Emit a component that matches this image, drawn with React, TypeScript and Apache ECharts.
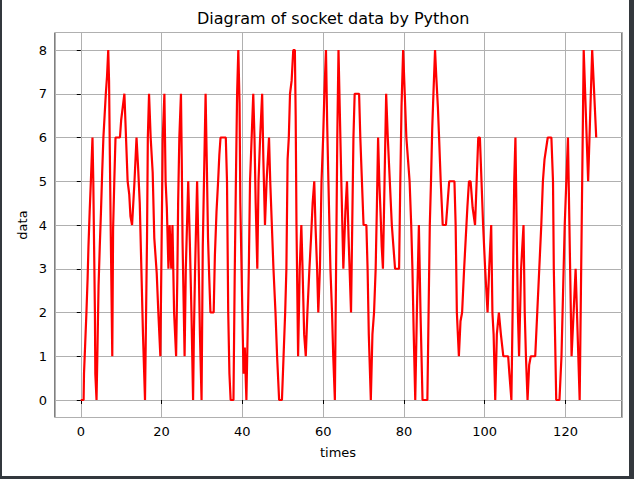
import React, { useEffect, useRef } from "react";
import * as echarts from "echarts";

const TITLE = "Diagram of socket data by Python";
const X_NAME = "times";
const Y_NAME = "data";

const times = [
  0, 0.7, 0.8, 1.1, 1.4, 1.7, 1.9, 2.2, 2.5, 2.9, 3.1, 3.3, 3.5, 3.6, 3.9, 4.1, 4.4, 4.7, 5.0, 5.3,
  5.6, 5.9, 6.2, 6.5, 6.8, 7.0, 7.2, 7.4, 7.8, 8.0, 8.3, 8.6, 9.7, 10.0, 10.4, 10.8, 11.2, 11.6, 12.0, 12.3,
  12.7, 13.3, 13.8, 14.2, 14.6, 15.0, 15.4, 15.9, 16.1, 16.4, 16.6, 16.9, 17.3, 17.8, 18.2, 18.8, 19.2, 19.7, 20.0, 20.3,
  20.7, 21.0, 21.3, 21.7, 22.0, 22.4, 22.7, 23.1, 23.6, 23.9, 24.1, 24.4, 24.8, 25.0, 25.2, 25.7, 26.0, 26.6, 27.0, 27.4,
  27.8, 28.0, 28.3, 28.8, 29.1, 29.5, 29.9, 30.2, 30.5, 30.9, 31.2, 31.5, 31.8, 32.1, 32.9, 33.2, 33.6, 34.0, 34.3, 34.6,
  35.9, 36.2, 36.5, 36.8, 37.1, 37.8, 38.1, 38.4, 38.7, 39.0, 39.3, 39.5, 39.8, 40.1, 40.3, 40.6, 41.0, 41.3, 41.6, 41.9,
  42.3, 42.7, 43.0, 43.3, 43.7, 44.0, 44.4, 44.9, 45.2, 45.6, 46.0, 46.6, 46.9, 47.3, 47.7, 48.2, 48.6, 49.1, 49.8, 50.2,
  50.6, 50.9, 51.2, 51.5, 51.8, 52.2, 52.6, 53.0, 53.2, 53.4, 53.8, 54.2, 54.6, 54.9, 55.3, 55.7, 56.1, 56.6, 57.0, 57.4,
  57.8, 58.1, 58.5, 58.8, 59.2, 59.6, 60.0, 60.3, 60.7, 61.0, 61.3, 61.8, 62.2, 62.5, 62.9, 63.2, 63.5, 63.8, 64.1, 64.5,
  65.0, 65.5, 65.9, 66.3, 66.9, 67.2, 67.5, 67.8, 68.9, 69.2, 69.6, 70.0, 70.7, 71.0, 71.3, 71.8, 72.2, 72.6, 73.0, 73.3,
  73.6, 73.9, 74.2, 74.5, 74.8, 75.2, 75.6, 76.0, 76.5, 77.0, 77.4, 77.8, 78.8, 79.1, 79.4, 79.8, 80.2, 80.6, 81.0, 81.4,
  81.8, 82.1, 82.4, 82.8, 83.2, 83.7, 84.1, 84.6, 85.8, 86.1, 86.4, 86.7, 87.0, 87.3, 87.7, 88.0, 88.4, 88.7, 89.1, 89.6,
  90.4, 90.8, 91.2, 92.5, 92.8, 93.1, 93.6, 94.0, 94.4, 94.9, 95.3, 95.7, 96.1, 96.5, 97.0, 97.6, 98.0, 98.4, 98.8, 99.2,
  99.6, 100.1, 100.7, 101.1, 101.6, 101.9, 102.2, 102.6, 103.0, 103.5, 104.0, 104.6, 105.8, 106.1, 106.6, 106.9, 107.1, 107.3, 107.6, 107.9,
  108.2, 108.5, 109.0, 109.6, 109.9, 110.2, 110.6, 111.0, 111.4, 112.5, 113.0, 113.5, 114.0, 114.4, 114.8, 115.6, 116.5, 116.9, 117.1, 117.4,
  117.7, 118.5, 119.0, 119.4, 119.8, 120.6, 121.5, 122.5, 123.5, 124.5, 125.6, 126.6, 127.6,
];

const values = [
  0, 0, 0.6, 1.3, 2.0, 2.8, 3.5, 4.3, 5.0, 6.0, 5.0, 3.5, 2.0, 0.6, 0, 1.0, 2.6, 3.5, 4.3, 5.2,
  6.0, 6.5, 7.0, 7.4, 8.0, 7.3, 5.6, 4.0, 1.0, 3.9, 5.0, 6.0, 6.0, 6.4, 6.7, 7.0, 6.0, 5.0, 4.7, 4.2,
  4.0, 5.0, 6.0, 5.3, 4.5, 3.0, 1.5, 0, 1.5, 3.7, 6.0, 7.0, 6.0, 5.2, 3.7, 2.9, 2.0, 1.0, 3.5, 6.0,
  7.0, 5.0, 4.4, 3.0, 4.0, 3.0, 4.0, 2.0, 1.0, 2.8, 4.5, 6.0, 7.0, 5.5, 3.6, 1.0, 3.0, 5.0, 3.6, 2.0,
  0, 1.5, 3.0, 5.0, 3.6, 1.5, 0, 3.5, 5.0, 7.0, 5.4, 3.7, 2.8, 2.0, 2.0, 3.3, 4.3, 5.0, 5.6, 6.0,
  6.0, 5.0, 2.0, 0.6, 0, 0, 2.8, 5.0, 7.0, 8.0, 6.8, 4.5, 3.0, 1.5, 0.6, 1.2, 0, 1.5, 3.0, 5.0,
  6.0, 7.0, 6.0, 4.5, 3.0, 5.0, 6.0, 7.0, 5.5, 4.0, 5.0, 6.0, 5.0, 4.0, 3.0, 2.0, 1.0, 0, 0, 1.0,
  2.0, 3.0, 5.5, 6.0, 7.0, 7.3, 8.0, 8.0, 6.5, 4.0, 1.0, 3.0, 4.0, 3.0, 1.5, 1.0, 2.0, 3.0, 3.7, 4.5,
  5.0, 4.0, 3.0, 2.0, 3.0, 5.0, 6.0, 7.0, 8.0, 6.3, 5.0, 3.0, 2.0, 1.0, 0, 3.0, 6.0, 8.0, 6.7, 5.0,
  3.0, 4.3, 5.0, 3.7, 2.0, 4.0, 6.0, 7.0, 7.0, 6.0, 5.0, 4.0, 4.0, 3.0, 1.5, 0, 1.5, 2.0, 3.0, 4.4,
  6.0, 5.0, 4.3, 3.5, 3.0, 5.0, 7.0, 6.0, 5.0, 4.0, 3.5, 3.0, 3.0, 5.0, 6.7, 8.0, 7.0, 6.0, 5.5, 5.0,
  4.0, 3.0, 1.6, 0, 2.0, 4.0, 2.0, 0, 0, 2.0, 4.0, 5.0, 6.2, 7.0, 8.0, 7.4, 6.7, 6.0, 5.0, 4.0,
  4.0, 4.5, 5.0, 5.0, 4.0, 2.0, 1.0, 1.8, 2.0, 3.0, 3.7, 4.4, 5.0, 5.0, 4.4, 4.0, 5.0, 6.0, 6.0, 5.0,
  4.0, 3.0, 2.0, 3.0, 4.0, 2.0, 1.5, 0, 1.5, 2.0, 1.5, 1.0, 1.0, 0.6, 0, 2.0, 3.5, 5.0, 6.0, 4.0,
  2.0, 1.0, 3.0, 4.0, 2.0, 1.0, 0, 0.8, 1.0, 1.0, 2.0, 3.0, 4.0, 5.0, 5.5, 6.0, 6.0, 5.0, 3.0, 1.5,
  0, 0, 1.0, 2.5, 4.0, 6.0, 1.0, 3.0, 0, 8.0, 5.0, 8.0, 6.0,
];

const X_MIN = -6.38;
const X_MAX = 133.98;
const Y_MIN = -0.4;
const Y_MAX = 8.4;

export default function App() {
  const ref = useRef<HTMLDivElement>(null);

  useEffect(() => {
    if (!ref.current) return;
    const chart = echarts.init(ref.current, null, { renderer: "svg" });
    const font = "DejaVu Sans";
    const data = times.map((t, i) => [t, values[i]]);
    chart.setOption({
      animation: false,
      backgroundColor: "#ffffff",
      textStyle: { fontFamily: font },
      grid: {
        left: 55,
        top: 32.5,
        width: 567,
        height: 385,
        show: true,
        borderColor: "#000000",
        borderWidth: 1,
        backgroundColor: "#ffffff",
      },
      xAxis: {
        type: "value",
        min: X_MIN,
        max: X_MAX,
        minInterval: 20,
        maxInterval: 20,
        axisLine: { show: false },
        axisTick: { show: true, length: 4, lineStyle: { color: "#000", width: 1 } },
        splitLine: { show: true, lineStyle: { color: "#b0b0b0", width: 1 } },
        axisLabel: {
          color: "#000",
          fontSize: 13,
          fontFamily: font,
          margin: 7,
          showMinLabel: false,
          showMaxLabel: false,
        },
      },
      yAxis: {
        type: "value",
        min: Y_MIN,
        max: Y_MAX,
        minInterval: 1,
        maxInterval: 1,
        axisLine: { show: false },
        axisTick: { show: true, length: 4, lineStyle: { color: "#000", width: 1 } },
        splitLine: { show: true, lineStyle: { color: "#b0b0b0", width: 1 } },
        axisLabel: {
          color: "#000",
          fontSize: 13,
          fontFamily: font,
          margin: 8,
          showMinLabel: false,
          showMaxLabel: false,
        },
      },
      series: [
        {
          type: "line",
          data,
          showSymbol: false,
          symbol: "none",
          lineStyle: { color: "#ff0000", width: 2.2 },
          itemStyle: { color: "#ff0000" },
          z: 5,
        },
      ],
      graphic: [
        {
          type: "text",
          left: 338 - 141,
          top: 10,
          style: { text: TITLE, font: `16px ${font}`, fill: "#000" },
        },
        {
          type: "text",
          x: 338,
          y: 452,
          style: { text: X_NAME, font: `13px ${font}`, fill: "#000", align: "center", verticalAlign: "middle" },
        },
        {
          type: "text",
          x: 22,
          y: 225,
          rotation: Math.PI / 2,
          style: { text: Y_NAME, font: `13px ${font}`, fill: "#000", align: "center", verticalAlign: "middle" },
        },
        { type: "rect", shape: { x: 0, y: 0, width: 2, height: 479 }, style: { fill: "#33383d" }, z: 100 },
        { type: "rect", shape: { x: 629, y: 0, width: 5, height: 479 }, style: { fill: "#33383d" }, z: 100 },
        { type: "rect", shape: { x: 0, y: 476, width: 634, height: 3 }, style: { fill: "#33383d" }, z: 100 },
      ],
    });
    return () => chart.dispose();
  }, []);

  return (
    <div
      ref={ref}
      style={{ position: "fixed", left: 0, top: 0, width: 634, height: 479, background: "#fff" }}
    />
  );
}
